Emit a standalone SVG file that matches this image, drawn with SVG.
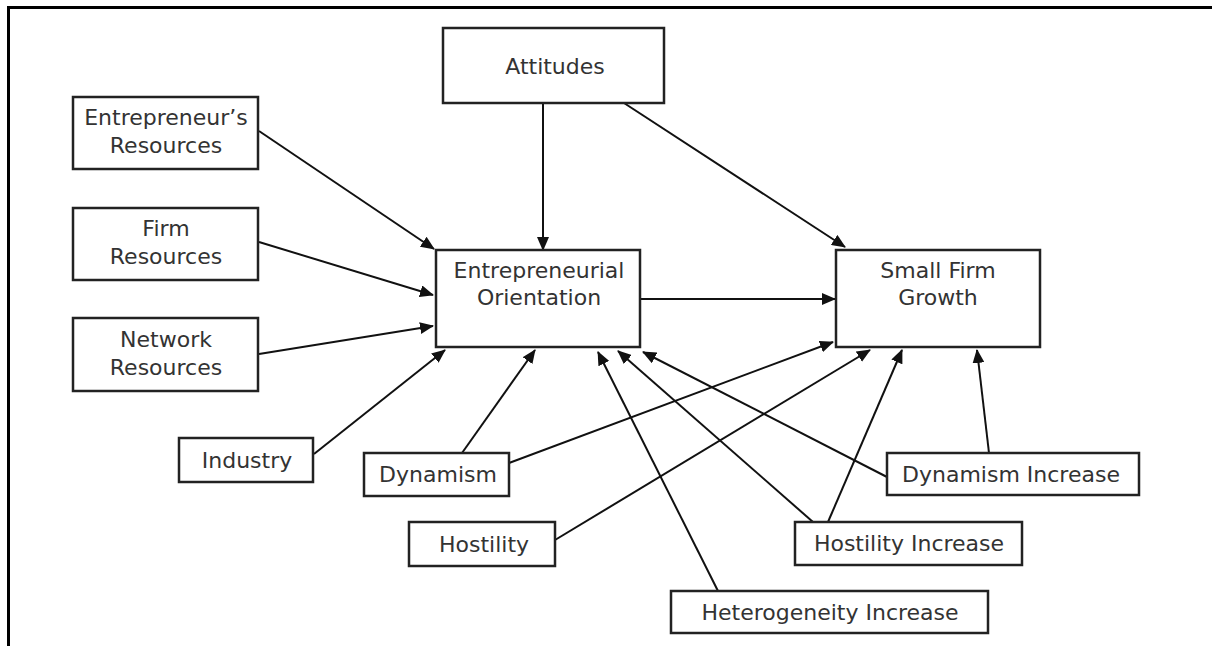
<svg xmlns="http://www.w3.org/2000/svg" width="1212" height="646" viewBox="0 0 1212 646">
<style>
.box{fill:#fff;stroke:#222;stroke-width:2.5}
.lbl{font-family:"DejaVu Sans",sans-serif;font-size:22px;fill:#333;text-anchor:middle}
.con{stroke:#111;stroke-width:2;fill:none;marker-end:url(#ah)}
</style>
<defs>
<marker id="ah" markerUnits="userSpaceOnUse" markerWidth="14" markerHeight="12" refX="13" refY="6" orient="auto">
<path d="M0,0 L14,6 L0,12 z" fill="#111"/>
</marker>
</defs>
<rect width="1212" height="646" fill="#fff"/>
<g id="frame" stroke="#000" stroke-width="3">
<line x1="7" y1="7.5" x2="1212" y2="7.5"/>
<line x1="8.5" y1="6" x2="8.5" y2="646"/>
</g>
<g id="connectors">
<line class="con" x1="259" y1="131" x2="434" y2="249"/>
<line class="con" x1="259" y1="242" x2="433" y2="295"/>
<line class="con" x1="259" y1="354" x2="433" y2="326"/>
<line class="con" x1="314" y1="454" x2="445" y2="350"/>
<line class="con" x1="462" y1="453" x2="535" y2="350"/>
<line class="con" x1="543" y1="103" x2="543" y2="250"/>
<line class="con" x1="624" y1="103" x2="845" y2="247"/>
<line class="con" x1="640" y1="299" x2="835" y2="299"/>
<line class="con" x1="509" y1="463" x2="833" y2="342"/>
<line class="con" x1="555" y1="540" x2="870" y2="350"/>
<line class="con" x1="828" y1="522" x2="902" y2="350"/>
<line class="con" x1="989" y1="453" x2="977" y2="350"/>
<line class="con" x1="718" y1="591" x2="598" y2="352"/>
<line class="con" x1="813" y1="522" x2="618" y2="351"/>
<line class="con" x1="887" y1="477" x2="643" y2="352"/>
</g>
<g id="attitudes"><rect class="box" x="443" y="28" width="221" height="75"/><text class="lbl" x="555" y="74">Attitudes</text></g>
<g id="entrepreneurs-resources"><rect class="box" x="73" y="97" width="185" height="72"/><text class="lbl" x="166" y="125">Entrepreneur’s</text><text class="lbl" x="166" y="153">Resources</text></g>
<g id="firm-resources"><rect class="box" x="73" y="208" width="185" height="72"/><text class="lbl" x="166" y="236">Firm</text><text class="lbl" x="166" y="264">Resources</text></g>
<g id="network-resources"><rect class="box" x="73" y="318" width="185" height="73"/><text class="lbl" x="166" y="347">Network</text><text class="lbl" x="166" y="375">Resources</text></g>
<g id="entrepreneurial-orientation"><rect class="box" x="436" y="250" width="204" height="97"/><text class="lbl" x="539" y="278">Entrepreneurial</text><text class="lbl" x="539" y="305">Orientation</text></g>
<g id="small-firm-growth"><rect class="box" x="836" y="250" width="204" height="97"/><text class="lbl" x="938" y="278">Small Firm</text><text class="lbl" x="938" y="305">Growth</text></g>
<g id="industry"><rect class="box" x="179" y="438" width="134" height="44"/><text class="lbl" x="247" y="468">Industry</text></g>
<g id="dynamism"><rect class="box" x="364" y="453" width="145" height="43"/><text class="lbl" x="438" y="482">Dynamism</text></g>
<g id="hostility"><rect class="box" x="409" y="522" width="146" height="44"/><text class="lbl" x="484" y="552">Hostility</text></g>
<g id="dynamism-increase"><rect class="box" x="887" y="453" width="252" height="42"/><text class="lbl" x="1011" y="482">Dynamism Increase</text></g>
<g id="hostility-increase"><rect class="box" x="795" y="522" width="227" height="43"/><text class="lbl" x="909" y="551">Hostility Increase</text></g>
<g id="heterogeneity-increase"><rect class="box" x="671" y="591" width="317" height="42"/><text class="lbl" x="830" y="620">Heterogeneity Increase</text></g>
</svg>
